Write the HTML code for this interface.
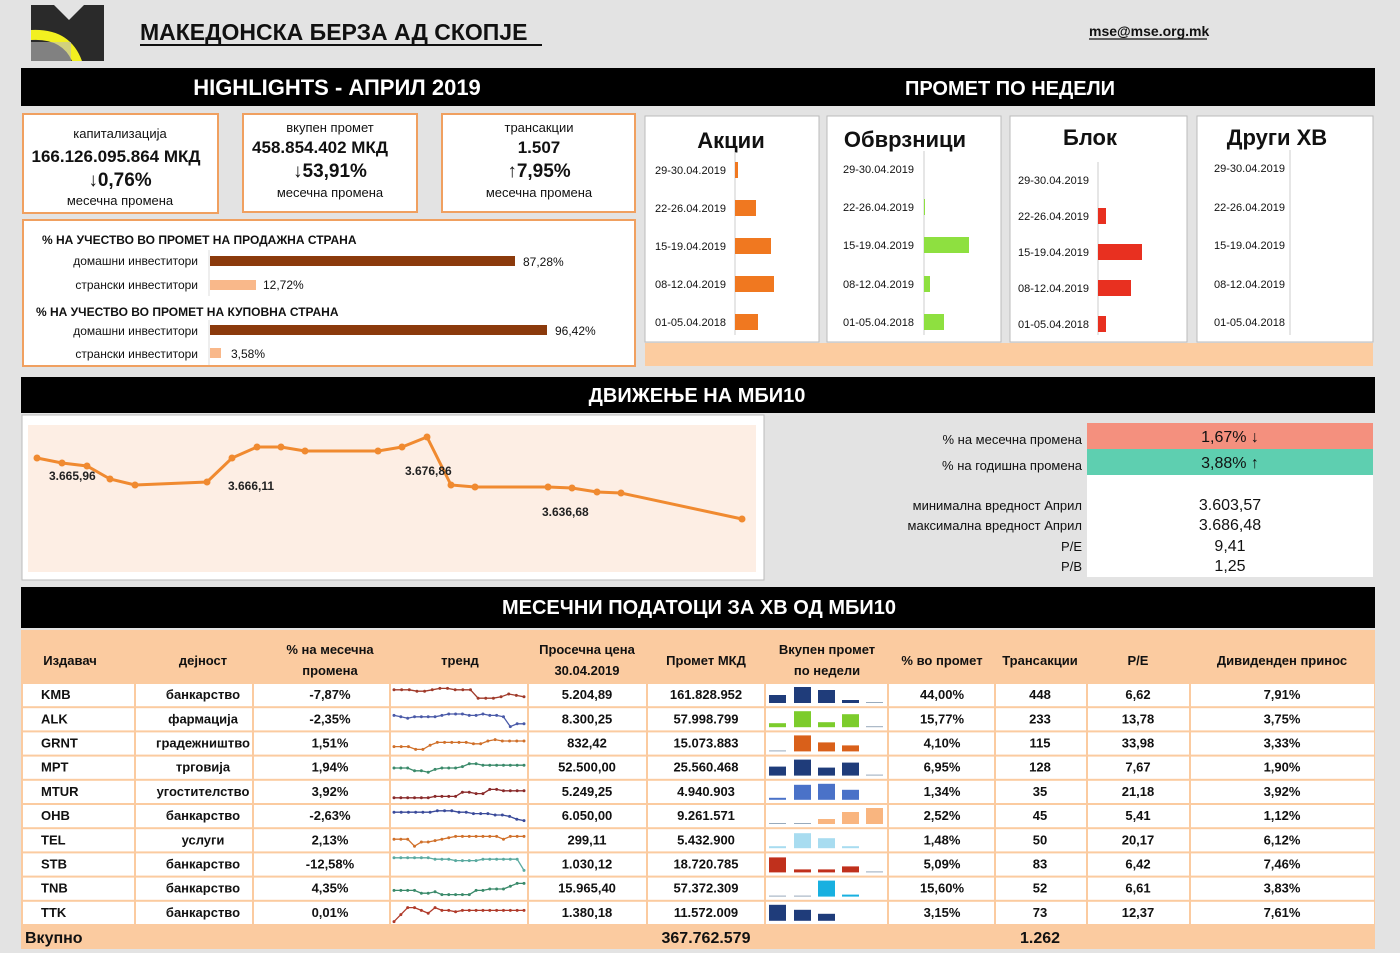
<!DOCTYPE html>
<html><head><meta charset="utf-8"><style>
html,body{margin:0;padding:0;background:#e3e3e3;}
svg{display:block;font-family:"Liberation Sans Narrow","Liberation Sans",sans-serif;}
</style></head><body>
<svg id="s" width="1400" height="953" viewBox="0 0 1400 953" xmlns="http://www.w3.org/2000/svg">
<rect x="0" y="0" width="1400" height="953" fill="#e3e3e3"/>
<!-- logo -->
<rect x="31" y="5" width="73" height="56" fill="#2a2a2a"/>
<polygon points="54,5 69,20 84,5" fill="#e3e3e3"/>
<path d="M31,30 Q70,28 82,61 L72,61 Q62,38 31,40 Z" fill="#f2f020"/>
<rect x="31" y="42" width="40" height="19" fill="#bdbdbd" opacity="0.6"/>
<text x="140" y="40" font-size="23" font-weight="bold" fill="#111">МАКЕДОНСКА БЕРЗА АД СКОПЈЕ</text>
<line x1="140" y1="45" x2="542" y2="45" stroke="#111" stroke-width="2"/>
<text x="1089" y="36" font-size="14" font-weight="bold" fill="#111">mse@mse.org.mk</text>
<line x1="1089" y1="39" x2="1207" y2="39" stroke="#111" stroke-width="1.2"/>
<!-- black bar 1 -->
<rect x="21" y="68" width="1354" height="38" fill="#000"/>
<text x="337" y="95" font-size="22" font-weight="bold" fill="#fff" text-anchor="middle">HIGHLIGHTS -  АПРИЛ 2019</text>
<text x="1010" y="95" font-size="20" font-weight="bold" fill="#fff" text-anchor="middle">ПРОМЕТ ПО НЕДЕЛИ</text>
<!-- boxes -->
<g fill="#fff" stroke="#f0a060" stroke-width="2">
<rect x="23" y="114" width="195" height="99"/>
<rect x="243" y="114" width="174" height="98"/>
<rect x="442" y="114" width="193" height="98"/>
<rect x="23" y="220" width="612" height="146"/>
</g>
<g text-anchor="middle" fill="#111">
<text x="120" y="138" font-size="13">капитализација</text>
<text x="116" y="162" font-size="17" font-weight="bold">166.126.095.864 МКД</text>
<text x="120" y="186" font-size="19" font-weight="bold">↓0,76%</text>
<text x="120" y="205" font-size="13">месечна промена</text>
<text x="330" y="132" font-size="13">вкупен промет</text>
<text x="320" y="153" font-size="17" font-weight="bold">458.854.402 МКД</text>
<text x="330" y="177" font-size="19" font-weight="bold">↓53,91%</text>
<text x="330" y="197" font-size="13">месечна промена</text>
<text x="539" y="132" font-size="13">трансакции</text>
<text x="539" y="153" font-size="17" font-weight="bold">1.507</text>
<text x="539" y="177" font-size="19" font-weight="bold">↑7,95%</text>
<text x="539" y="197" font-size="13">месечна промена</text>
</g>
<g font-size="12" fill="#111">
<text x="42" y="244" font-weight="bold">% НА УЧЕСТВО ВО ПРОМЕТ НА ПРОДАЖНА СТРАНА</text>
<text x="36" y="316" font-weight="bold">% НА УЧЕСТВО ВО ПРОМЕТ НА КУПОВНА СТРАНА</text>
<g text-anchor="end"><text x="198" y="265">домашни инвеститори</text><text x="198" y="289">странски инвеститори</text>
<text x="198" y="335">домашни инвеститори</text><text x="198" y="358">странски инвеститори</text></g>
<text x="523" y="266">87,28%</text><text x="263" y="289">12,72%</text>
<text x="555" y="335">96,42%</text><text x="231" y="358">3,58%</text>
</g>
<line x1="209" y1="250" x2="209" y2="296" stroke="#ddd"/>
<line x1="209" y1="320" x2="209" y2="365" stroke="#ddd"/>
<rect x="210" y="256" width="305" height="10" fill="#8b3a0c"/>
<rect x="210" y="280" width="46" height="10" fill="#f9b88a"/>
<rect x="210" y="325" width="337" height="10" fill="#8b3a0c"/>
<rect x="210" y="348" width="11" height="10" fill="#f9b88a"/>
<!-- weekly -->
<g fill="#fff" stroke="#bbb" stroke-width="1">
<rect x="645" y="116" width="174" height="226"/>
<rect x="827" y="116" width="174" height="226"/>
<rect x="1010" y="116" width="177" height="226"/>
<rect x="1197" y="116" width="176" height="226"/>
</g>
<rect x="645" y="343" width="728" height="23" fill="#fccca0"/>
<g font-size="22" font-weight="bold" fill="#111" text-anchor="middle">
<text x="731" y="148">Акции</text><text x="905" y="147">Обврзници</text><text x="1090" y="145">Блок</text><text x="1277" y="145">Други ХВ</text>
</g>
<g font-size="11" fill="#111" id="wk"></g>
<!-- black bar 2 -->
<rect x="21" y="377" width="1354" height="36" fill="#000"/>
<text x="697" y="402" font-size="20" font-weight="bold" fill="#fff" text-anchor="middle">ДВИЖЕЊЕ НА МБИ10</text>
<rect x="22" y="415" width="742" height="165" fill="#fff" stroke="#bbb"/>
<rect x="28" y="425" width="728" height="147" fill="#fdeee4"/>
<polyline fill="none" stroke="#f08a30" stroke-width="3" points="37,458 62,463 87,466 110,479 135,485 207,482 232,458 257,447 281,447 305,451 378,451 402,447 427,437 451,485 475,487 548,487 572,488 597,492 621,493 742,519"/>
<g fill="#f08a30"><circle cx="37" cy="458" r="3.5"/><circle cx="62" cy="463" r="3.5"/><circle cx="87" cy="466" r="3.5"/><circle cx="110" cy="479" r="3.5"/><circle cx="135" cy="485" r="3.5"/><circle cx="207" cy="482" r="3.5"/><circle cx="232" cy="458" r="3.5"/><circle cx="257" cy="447" r="3.5"/><circle cx="281" cy="447" r="3.5"/><circle cx="305" cy="451" r="3.5"/><circle cx="378" cy="451" r="3.5"/><circle cx="402" cy="447" r="3.5"/><circle cx="427" cy="437" r="3.5"/><circle cx="451" cy="485" r="3.5"/><circle cx="475" cy="487" r="3.5"/><circle cx="548" cy="487" r="3.5"/><circle cx="572" cy="488" r="3.5"/><circle cx="597" cy="492" r="3.5"/><circle cx="621" cy="493" r="3.5"/><circle cx="742" cy="519" r="3.5"/></g>
<g font-size="12" font-weight="bold" fill="#222">
<text x="49" y="480">3.665,96</text><text x="228" y="490">3.666,11</text><text x="405" y="475">3.676,86</text><text x="542" y="516">3.636,68</text>
</g>
<!-- stats -->
<rect x="1087" y="423" width="286" height="26" fill="#f4907e"/>
<rect x="1087" y="449" width="286" height="26" fill="#5ecfb0"/>
<rect x="1087" y="475" width="286" height="102" fill="#fff"/>
<g font-size="13" fill="#111" text-anchor="end">
<text x="1082" y="444">% на месечна промена</text><text x="1082" y="470">% на годишна промена</text>
<text x="1082" y="510">минимална вредност Април</text><text x="1082" y="530">максимална вредност Април</text>
<text x="1082" y="551">P/E</text><text x="1082" y="571">P/B</text>
</g>
<g font-size="16" fill="#111" text-anchor="middle">
<text x="1230" y="442">1,67% ↓</text><text x="1230" y="468">3,88% ↑</text>
<text x="1230" y="510">3.603,57</text><text x="1230" y="530">3.686,48</text>
<text x="1230" y="551">9,41</text><text x="1230" y="571">1,25</text>
</g>
<!-- black bar 3 -->
<rect x="21" y="587" width="1354" height="41" fill="#000"/>
<text x="699" y="614" font-size="20" font-weight="bold" fill="#fff" text-anchor="middle">МЕСЕЧНИ  ПОДАТОЦИ ЗА ХВ ОД МБИ10</text>
<rect x="21" y="630" width="1354" height="319" fill="#fbcba0"/>
<g id="tb"></g>
<g font-size="13" font-weight="bold" fill="#111" text-anchor="middle">
<text x="70" y="665">Издавач</text><text x="203" y="665">дејност</text>
<text x="330" y="654">% на месечна</text><text x="330" y="675">промена</text>
<text x="460" y="665">тренд</text>
<text x="587" y="654">Просечна цена</text><text x="587" y="675">30.04.2019</text>
<text x="706" y="665">Промет МКД</text>
<text x="827" y="654">Вкупен промет</text><text x="827" y="675">по недели</text>
<text x="942" y="665">% во промет</text><text x="1040" y="665">Трансакции</text>
<text x="1138" y="665">P/E</text><text x="1282" y="665">Дивиденден принос</text>
</g>
<text x="25" y="943" font-size="16" font-weight="bold" fill="#111">Вкупно</text>
<text x="706" y="943" font-size="16" font-weight="bold" fill="#111" text-anchor="middle">367.762.579</text>
<text x="1040" y="943" font-size="16" font-weight="bold" fill="#111" text-anchor="middle">1.262</text>
</svg>
<script>
var NS="http://www.w3.org/2000/svg",s=document.getElementById('s');
function el(p,t,a,tx){var e=document.createElementNS(NS,t);for(var k in a)e.setAttribute(k,a[k]);if(tx!=null)e.textContent=tx;p.appendChild(e);return e;}
var wk=document.getElementById('wk');
var L=["29-30.04.2019","22-26.04.2019","15-19.04.2019","08-12.04.2019","01-05.04.2018"];
var W=[{lx:655,ax:735,ys:[170,208,246,284,322],b:[3,21,36,39,23],c:"#f07820"},
{lx:843,ax:924,ys:[169,207,245,284,322],b:[0,1,45,6,20],c:"#8ee040"},
{lx:1018,ax:1098,ys:[180,216,252,288,324],b:[0,8,44,33,8],c:"#e83020"},
{lx:1214,ax:1290,ys:[168,207,245,284,322],b:[0,0,0,0,0],c:"#fff"}];
W.forEach(function(w){el(wk,'line',{x1:w.ax,y1:w.ys[0]-18,x2:w.ax,y2:335,stroke:"#ccc"});
w.ys.forEach(function(y,i){el(wk,'text',{x:w.lx,y:y+4},L[i]);if(w.b[i])el(wk,'rect',{x:w.ax,y:y-8,width:w.b[i],height:16,fill:w.c});});});
var tb=document.getElementById('tb');
var cols=[22,135,253,390,528,647,765,888,995,1087,1190,1375];
var R=[["KMB","банкарство","-7,87%","5.204,89","161.828.952","44,00%","448","6,62","7,91%","#a03a2a",[2,2,2,3,3,2,1,1,2,2,2,8,8,8,7,5,6,7],"#1f3c7a",[8,16,13,3,1]],
["ALK","фармација","-2,35%","8.300,25","57.998.799","15,77%","233","13,78","3,75%","#4a5aa8",[3,4,5,4,4,4,4,3,2,2,2,3,3,2,3,3,4,11,9,9],"#7ccc2c",[4,16,5,13,1]],
["GRNT","градежништво","1,51%","832,42","15.073.883","4,10%","115","33,98","3,33%","#d0702a",[8,8,8,10,10,7,5,5,5,5,5,6,6,4,3,4,4,4,4],"#d9601a",[1,16,9,6,0]],
["MPT","трговија","1,94%","52.500,00","25.560.468","6,95%","128","7,67","1,90%","#3a8a6a",[6,6,6,8,8,9,7,6,6,6,5,3,3,4,4,4,4,4,4,4],"#1f3c7a",[9,16,8,13,1]],
["MTUR","угостителство","3,92%","5.249,25","4.940.903","1,34%","35","21,18","3,92%","#8a2a2a",[10,10,10,10,10,10,9,9,9,9,6,6,7,7,4,4,5,5,5,5],"#4a72c8",[2,15,16,10,0]],
["OHB","банкарство","-2,63%","6.050,00","9.261.571","2,52%","45","5,41","1,12%","#3a4a9a",[3,3,3,3,3,3,2,2,2,3,3,4,4,4,5,5,6,8,9],"#f9b57f",[1,0.5,5,12,16]],
["TEL","услуги","2,13%","299,11","5.432.900","1,48%","50","20,17","6,12%","#d0702a",[5,5,5,10,7,7,6,5,4,3,3,3,3,3,3,3,5,3,3,3],"#a8dcf0",[2,15,10,2,0]],
["STB","банкарство","-12,58%","1.030,12","18.720.785","5,09%","83","6,42","7,46%","#5aaaa0",[1,1,1,1,1,1,2,2,2,3,3,3,3,2,2,2,2,2,2,10],"#c0301c",[15,3,3,6,1]],
["TNB","банкарство","4,35%","15.965,40","57.372.309","15,60%","52","6,61","3,83%","#3a8a6a",[7,7,7,7,9,9,8,10,10,10,10,10,7,7,6,6,6,4,2,2],"#18b0e0",[0.5,1,16,2,0]],
["TTK","банкарство","0,01%","1.380,18","11.572.009","3,15%","73","12,37","7,61%","#b03a2a",[12,7,2,2,4,6,2,4,4,5,4,4,4,4,4,4,4,4,4,4],"#1f3c7a",[16,11,7,0,0]]];
var top0=683,rh=24.2;
R.forEach(function(r,i){var y=top0+i*rh,cy=y+rh/2;
for(var c=0;c<11;c++){el(tb,'rect',{x:cols[c]+1,y:y+1,width:cols[c+1]-cols[c]-2,height:rh-2,fill:"#fff"});}
var g=el(tb,'g',{"font-size":13,"font-weight":"bold",fill:"#111","text-anchor":"middle"});
el(g,'text',{x:41,y:cy+4,"text-anchor":"start"},r[0]);
var tx=[203,330,null,587,706,null,942,1040,1138,1282],vals=[r[1],r[2],null,r[3],r[4],null,r[5],r[6],r[7],r[8]];
tx.forEach(function(x,k){if(x)el(g,'text',{x:x,y:cy+4},vals[k]);});
var d=r[10],n=d.length,x0=394,x1=524,pts=[];
d.forEach(function(v,k){pts.push([x0+(x1-x0)*k/(n-1),y+4+v*1.4]);});
el(tb,'polyline',{points:pts.map(function(p){return p.join(',')}).join(' '),fill:"none",stroke:r[9],"stroke-width":1.3});
pts.forEach(function(p){el(tb,'circle',{cx:p[0],cy:p[1],r:1.5,fill:r[9]});});
var bx=[769,794,818,842,866];
r[12].forEach(function(h,k){if(h>0){var hh=Math.max(1,h);el(tb,'rect',{x:bx[k],y:y+20-hh,width:17,height:hh,fill:h<=1?"#9ab":r[11]});}});
});
</script>
</body></html>
